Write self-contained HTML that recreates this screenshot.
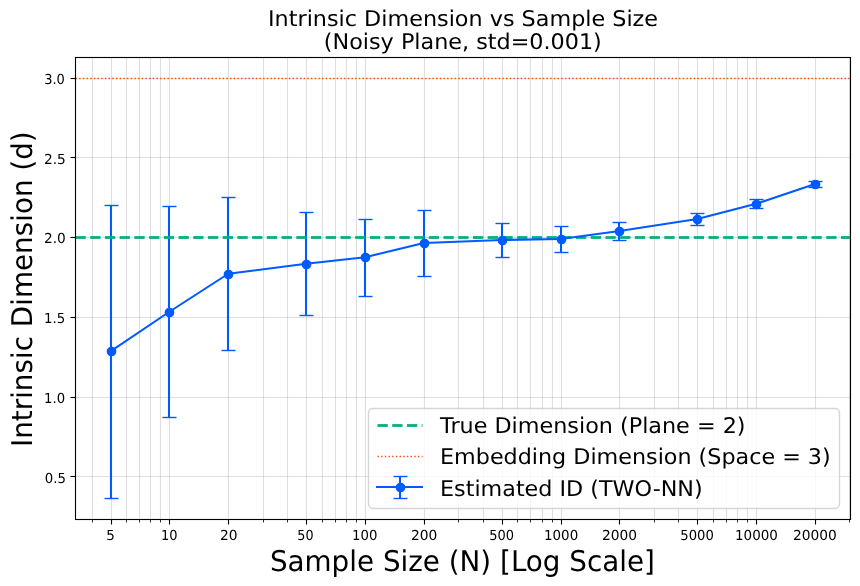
<!DOCTYPE html>
<html lang="en"><head><meta charset="utf-8"><title>Intrinsic Dimension vs Sample Size</title>
<style>html,body{margin:0;padding:0;background:#fff}svg{display:block;text-rendering:geometricPrecision}</style></head>
<body>
<svg width="860" height="586" viewBox="0 0 860 586">
<rect width="860" height="586" fill="#fff"/>
<g stroke="#b0b0b0" stroke-opacity="0.4" stroke-width="1.11" fill="none"><path d="M92.5 57.5V519.5"/><path d="M111.5 57.5V519.5"/><path d="M126.5 57.5V519.5"/><path d="M139.5 57.5V519.5"/><path d="M150.5 57.5V519.5"/><path d="M160.5 57.5V519.5"/><path d="M169.5 57.5V519.5"/><path d="M228.5 57.5V519.5"/><path d="M263.5 57.5V519.5"/><path d="M287.5 57.5V519.5"/><path d="M306.5 57.5V519.5"/><path d="M322.5 57.5V519.5"/><path d="M335.5 57.5V519.5"/><path d="M346.5 57.5V519.5"/><path d="M356.5 57.5V519.5"/><path d="M365.5 57.5V519.5"/><path d="M424.5 57.5V519.5"/><path d="M458.5 57.5V519.5"/><path d="M483.5 57.5V519.5"/><path d="M502.5 57.5V519.5"/><path d="M517.5 57.5V519.5"/><path d="M530.5 57.5V519.5"/><path d="M542.5 57.5V519.5"/><path d="M552.5 57.5V519.5"/><path d="M561.5 57.5V519.5"/><path d="M619.5 57.5V519.5"/><path d="M654.5 57.5V519.5"/><path d="M678.5 57.5V519.5"/><path d="M697.5 57.5V519.5"/><path d="M713.5 57.5V519.5"/><path d="M726.5 57.5V519.5"/><path d="M737.5 57.5V519.5"/><path d="M747.5 57.5V519.5"/><path d="M756.5 57.5V519.5"/><path d="M815.5 57.5V519.5"/><path d="M849.5 57.5V519.5"/><path d="M75.5 476.5H850.5"/><path d="M75.5 397.5H850.5"/><path d="M75.5 317.5H850.5"/><path d="M75.5 237.5H850.5"/><path d="M75.5 157.5H850.5"/><path d="M75.5 78.5H850.5"/></g>
<g stroke="#005bff" stroke-width="2.08" fill="none"><path d="M111 205V498"/><path d="M169 206V417"/><path d="M228 197V350"/><path d="M306 212V315"/><path d="M365 219V296"/><path d="M424 210V276"/><path d="M502 223V257"/><path d="M561 226V252"/><path d="M619 222V240"/><path d="M697 213V225"/><path d="M756 199V208"/><path d="M815 181V187"/></g>
<g stroke="#005bff" stroke-width="1.39" fill="none"><path d="M104.5 205.5h14"/><path d="M104.5 498.5h14"/><path d="M162.5 206.5h14"/><path d="M162.5 417.5h14"/><path d="M221.5 197.5h14"/><path d="M221.5 350.5h14"/><path d="M299.5 212.5h14"/><path d="M299.5 315.5h14"/><path d="M358.5 219.5h14"/><path d="M358.5 296.5h14"/><path d="M417.5 210.5h14"/><path d="M417.5 276.5h14"/><path d="M495.5 223.5h14"/><path d="M495.5 257.5h14"/><path d="M554.5 226.5h14"/><path d="M554.5 252.5h14"/><path d="M612.5 222.5h14"/><path d="M612.5 240.5h14"/><path d="M690.5 213.5h14"/><path d="M690.5 225.5h14"/><path d="M749.5 199.5h14"/><path d="M749.5 208.5h14"/><path d="M808.5 181.5h14"/><path d="M808.5 187.5h14"/></g>
<g fill="#03af7a"><rect x="75.50" y="236.11" width="10.28" height="2.78"/><rect x="90.22" y="236.11" width="10.28" height="2.78"/><rect x="104.94" y="236.11" width="10.28" height="2.78"/><rect x="119.66" y="236.11" width="10.28" height="2.78"/><rect x="134.38" y="236.11" width="10.28" height="2.78"/><rect x="149.10" y="236.11" width="10.28" height="2.78"/><rect x="163.82" y="236.11" width="10.28" height="2.78"/><rect x="178.54" y="236.11" width="10.28" height="2.78"/><rect x="193.26" y="236.11" width="10.28" height="2.78"/><rect x="207.98" y="236.11" width="10.28" height="2.78"/><rect x="222.70" y="236.11" width="10.28" height="2.78"/><rect x="237.42" y="236.11" width="10.28" height="2.78"/><rect x="252.14" y="236.11" width="10.28" height="2.78"/><rect x="266.86" y="236.11" width="10.28" height="2.78"/><rect x="281.58" y="236.11" width="10.28" height="2.78"/><rect x="296.30" y="236.11" width="10.28" height="2.78"/><rect x="311.02" y="236.11" width="10.28" height="2.78"/><rect x="325.74" y="236.11" width="10.28" height="2.78"/><rect x="340.46" y="236.11" width="10.28" height="2.78"/><rect x="355.18" y="236.11" width="10.28" height="2.78"/><rect x="369.90" y="236.11" width="10.28" height="2.78"/><rect x="384.62" y="236.11" width="10.28" height="2.78"/><rect x="399.34" y="236.11" width="10.28" height="2.78"/><rect x="414.06" y="236.11" width="10.28" height="2.78"/><rect x="428.78" y="236.11" width="10.28" height="2.78"/><rect x="443.50" y="236.11" width="10.28" height="2.78"/><rect x="458.22" y="236.11" width="10.28" height="2.78"/><rect x="472.94" y="236.11" width="10.28" height="2.78"/><rect x="487.66" y="236.11" width="10.28" height="2.78"/><rect x="502.38" y="236.11" width="10.28" height="2.78"/><rect x="517.10" y="236.11" width="10.28" height="2.78"/><rect x="531.82" y="236.11" width="10.28" height="2.78"/><rect x="546.54" y="236.11" width="10.28" height="2.78"/><rect x="561.26" y="236.11" width="10.28" height="2.78"/><rect x="575.98" y="236.11" width="10.28" height="2.78"/><rect x="590.70" y="236.11" width="10.28" height="2.78"/><rect x="605.42" y="236.11" width="10.28" height="2.78"/><rect x="620.14" y="236.11" width="10.28" height="2.78"/><rect x="634.86" y="236.11" width="10.28" height="2.78"/><rect x="649.58" y="236.11" width="10.28" height="2.78"/><rect x="664.30" y="236.11" width="10.28" height="2.78"/><rect x="679.02" y="236.11" width="10.28" height="2.78"/><rect x="693.74" y="236.11" width="10.28" height="2.78"/><rect x="708.46" y="236.11" width="10.28" height="2.78"/><rect x="723.18" y="236.11" width="10.28" height="2.78"/><rect x="737.90" y="236.11" width="10.28" height="2.78"/><rect x="752.62" y="236.11" width="10.28" height="2.78"/><rect x="767.34" y="236.11" width="10.28" height="2.78"/><rect x="782.06" y="236.11" width="10.28" height="2.78"/><rect x="796.78" y="236.11" width="10.28" height="2.78"/><rect x="811.50" y="236.11" width="10.28" height="2.78"/><rect x="826.22" y="236.11" width="10.28" height="2.78"/><rect x="840.94" y="236.11" width="9.56" height="2.78"/></g>
<path d="M75.5 78.5H850.5" stroke="#ff4800" stroke-width="1.39" stroke-dasharray="1.39 2.29" fill="none"/>
<polyline points="110.51,351.36 169.39,311.75 228.27,273.75 306.10,263.75 364.98,257.25 423.86,243.00 501.70,240.00 560.58,239.00 619.46,231.00 697.29,219.00 756.17,203.75 815.05,184.00" stroke="#005bff" stroke-width="2.08" fill="none" stroke-linejoin="round"/>
<circle cx="111.5" cy="351.5" r="4.17" fill="#005bff" stroke="#005bff" stroke-width="1.39"/>
<circle cx="169.5" cy="312.5" r="4.17" fill="#005bff" stroke="#005bff" stroke-width="1.39"/>
<circle cx="228.5" cy="274.5" r="4.17" fill="#005bff" stroke="#005bff" stroke-width="1.39"/>
<circle cx="306.5" cy="264.5" r="4.17" fill="#005bff" stroke="#005bff" stroke-width="1.39"/>
<circle cx="365.5" cy="257.5" r="4.17" fill="#005bff" stroke="#005bff" stroke-width="1.39"/>
<circle cx="424.5" cy="243.5" r="4.17" fill="#005bff" stroke="#005bff" stroke-width="1.39"/>
<circle cx="502.5" cy="240.5" r="4.17" fill="#005bff" stroke="#005bff" stroke-width="1.39"/>
<circle cx="561.5" cy="239.5" r="4.17" fill="#005bff" stroke="#005bff" stroke-width="1.39"/>
<circle cx="619.5" cy="231.5" r="4.17" fill="#005bff" stroke="#005bff" stroke-width="1.39"/>
<circle cx="697.5" cy="219.5" r="4.17" fill="#005bff" stroke="#005bff" stroke-width="1.39"/>
<circle cx="756.5" cy="204.5" r="4.17" fill="#005bff" stroke="#005bff" stroke-width="1.39"/>
<circle cx="815.5" cy="184.5" r="4.17" fill="#005bff" stroke="#005bff" stroke-width="1.39"/>
<rect x="75.5" y="57.5" width="775.0" height="462.0" fill="none" stroke="#000" stroke-width="1.11"/>
<g stroke="#000" stroke-width="1.11" fill="none"><path d="M111.5 519.5v5"/><path d="M169.5 519.5v5"/><path d="M228.5 519.5v5"/><path d="M306.5 519.5v5"/><path d="M365.5 519.5v5"/><path d="M424.5 519.5v5"/><path d="M502.5 519.5v5"/><path d="M561.5 519.5v5"/><path d="M619.5 519.5v5"/><path d="M697.5 519.5v5"/><path d="M756.5 519.5v5"/><path d="M815.5 519.5v5"/><path d="M75.5 476.5h-5"/><path d="M75.5 397.5h-5"/><path d="M75.5 317.5h-5"/><path d="M75.5 237.5h-5"/><path d="M75.5 157.5h-5"/><path d="M75.5 78.5h-5"/></g>
<g stroke="#000" stroke-width="0.83" fill="none"><path d="M92.5 519.5v2.9"/><path d="M126.5 519.5v2.9"/><path d="M139.5 519.5v2.9"/><path d="M150.5 519.5v2.9"/><path d="M160.5 519.5v2.9"/><path d="M263.5 519.5v2.9"/><path d="M287.5 519.5v2.9"/><path d="M322.5 519.5v2.9"/><path d="M335.5 519.5v2.9"/><path d="M346.5 519.5v2.9"/><path d="M356.5 519.5v2.9"/><path d="M458.5 519.5v2.9"/><path d="M483.5 519.5v2.9"/><path d="M517.5 519.5v2.9"/><path d="M530.5 519.5v2.9"/><path d="M542.5 519.5v2.9"/><path d="M552.5 519.5v2.9"/><path d="M654.5 519.5v2.9"/><path d="M678.5 519.5v2.9"/><path d="M713.5 519.5v2.9"/><path d="M726.5 519.5v2.9"/><path d="M737.5 519.5v2.9"/><path d="M747.5 519.5v2.9"/><path d="M849.5 519.5v2.9"/></g>
<rect x="368.5" y="408.5" width="471.0" height="100.0" rx="4.4" fill="#fff" fill-opacity="0.8" stroke="#ccc" stroke-opacity="0.8" stroke-width="1.39"/>
<g fill="#03af7a"><rect x="377.50" y="424.11" width="10.28" height="2.78"/><rect x="392.22" y="424.11" width="10.28" height="2.78"/><rect x="406.94" y="424.11" width="10.28" height="2.78"/><rect x="421.66" y="424.11" width="0.84" height="2.78"/></g>
<path d="M377.5 456.5H422.5" stroke="#ff4800" stroke-width="1.39" stroke-dasharray="1.39 2.29" fill="none"/>
<path d="M377 487H422" stroke="#005bff" stroke-width="2.08" stroke-linecap="square" fill="none"/>
<path d="M400 476.5V498.5" stroke="#005bff" stroke-width="2.08" fill="none"/>
<g stroke="#005bff" stroke-width="1.39" fill="none"><path d="M393.5 476.5h14"/><path d="M393.5 498.5h14"/></g>
<circle cx="400.5" cy="487.5" r="4.17" fill="#005bff" stroke="#005bff" stroke-width="1.39"/>
<text id="t1" font-family="DejaVu Sans, Liberation Sans, sans-serif" font-size="21.6" x="268.03" y="26" textLength="390.03" lengthAdjust="spacingAndGlyphs">Intrinsic Dimension vs Sample Size</text>
<text id="t2" font-family="DejaVu Sans, Liberation Sans, sans-serif" font-size="21.6" x="323.84" y="49" textLength="277.97" lengthAdjust="spacingAndGlyphs">(Noisy Plane, std=0.001)</text>
<text id="xl" font-family="DejaVu Sans, Liberation Sans, sans-serif" font-size="28.5" x="269.92" y="571" textLength="385.00" lengthAdjust="spacingAndGlyphs">Sample Size (N) [Log Scale]</text>
<text id="l1" font-family="DejaVu Sans, Liberation Sans, sans-serif" font-size="21.6" x="440.06" y="433" textLength="305.48" lengthAdjust="spacingAndGlyphs">True Dimension (Plane = 2)</text>
<text id="l2" font-family="DejaVu Sans, Liberation Sans, sans-serif" font-size="21.6" x="440.04" y="464" textLength="390.66" lengthAdjust="spacingAndGlyphs">Embedding Dimension (Space = 3)</text>
<text id="l3" font-family="DejaVu Sans, Liberation Sans, sans-serif" font-size="21.6" x="440.04" y="496" textLength="262.64" lengthAdjust="spacingAndGlyphs">Estimated ID (TWO-NN)</text>
<text id="yl" font-family="DejaVu Sans, Liberation Sans, sans-serif" font-size="28.5" transform="translate(31.8 446.98) rotate(-90)" textLength="315.67" lengthAdjust="spacingAndGlyphs">Intrinsic Dimension (d)</text>
<text id="x5" font-family="DejaVu Sans, Liberation Sans, sans-serif" font-size="13.8" x="106.30" y="540" textLength="8.57" lengthAdjust="spacingAndGlyphs">5</text>
<text id="x10" font-family="DejaVu Sans, Liberation Sans, sans-serif" font-size="13.8" x="161.05" y="540" textLength="16.53" lengthAdjust="spacingAndGlyphs">10</text>
<text id="x20" font-family="DejaVu Sans, Liberation Sans, sans-serif" font-size="13.8" x="219.98" y="540" textLength="17.58" lengthAdjust="spacingAndGlyphs">20</text>
<text id="x50" font-family="DejaVu Sans, Liberation Sans, sans-serif" font-size="13.8" x="297.35" y="540" textLength="16.22" lengthAdjust="spacingAndGlyphs">50</text>
<text id="x100" font-family="DejaVu Sans, Liberation Sans, sans-serif" font-size="13.8" x="352.01" y="540" textLength="25.36" lengthAdjust="spacingAndGlyphs">100</text>
<text id="x200" font-family="DejaVu Sans, Liberation Sans, sans-serif" font-size="13.8" x="410.98" y="540" textLength="26.35" lengthAdjust="spacingAndGlyphs">200</text>
<text id="x500" font-family="DejaVu Sans, Liberation Sans, sans-serif" font-size="13.8" x="489.33" y="540" textLength="24.80" lengthAdjust="spacingAndGlyphs">500</text>
<text id="x1000" font-family="DejaVu Sans, Liberation Sans, sans-serif" font-size="13.8" x="544.00" y="540" textLength="34.19" lengthAdjust="spacingAndGlyphs">1000</text>
<text id="x2000" font-family="DejaVu Sans, Liberation Sans, sans-serif" font-size="13.8" x="601.98" y="540" textLength="35.09" lengthAdjust="spacingAndGlyphs">2000</text>
<text id="x5000" font-family="DejaVu Sans, Liberation Sans, sans-serif" font-size="13.8" x="680.32" y="540" textLength="33.56" lengthAdjust="spacingAndGlyphs">5000</text>
<text id="x10000" font-family="DejaVu Sans, Liberation Sans, sans-serif" font-size="13.8" x="734.99" y="540" textLength="42.96" lengthAdjust="spacingAndGlyphs">10000</text>
<text id="x20000" font-family="DejaVu Sans, Liberation Sans, sans-serif" font-size="13.8" x="792.98" y="540" textLength="43.92" lengthAdjust="spacingAndGlyphs">20000</text>
<text id="y0_5" font-family="DejaVu Sans, Liberation Sans, sans-serif" font-size="13.8" x="44.84" y="483" textLength="21.11" lengthAdjust="spacingAndGlyphs">0.5</text>
<text id="y1_0" font-family="DejaVu Sans, Liberation Sans, sans-serif" font-size="13.8" x="44.02" y="403" textLength="21.05" lengthAdjust="spacingAndGlyphs">1.0</text>
<text id="y1_5" font-family="DejaVu Sans, Liberation Sans, sans-serif" font-size="13.8" x="44.02" y="323" textLength="21.11" lengthAdjust="spacingAndGlyphs">1.5</text>
<text id="y2_0" font-family="DejaVu Sans, Liberation Sans, sans-serif" font-size="13.8" x="43.99" y="243" textLength="21.82" lengthAdjust="spacingAndGlyphs">2.0</text>
<text id="y2_5" font-family="DejaVu Sans, Liberation Sans, sans-serif" font-size="13.8" x="43.98" y="164" textLength="21.87" lengthAdjust="spacingAndGlyphs">2.5</text>
<text id="y3_0" font-family="DejaVu Sans, Liberation Sans, sans-serif" font-size="13.8" x="44.20" y="84" textLength="20.69" lengthAdjust="spacingAndGlyphs">3.0</text>
</svg>
</body></html>
